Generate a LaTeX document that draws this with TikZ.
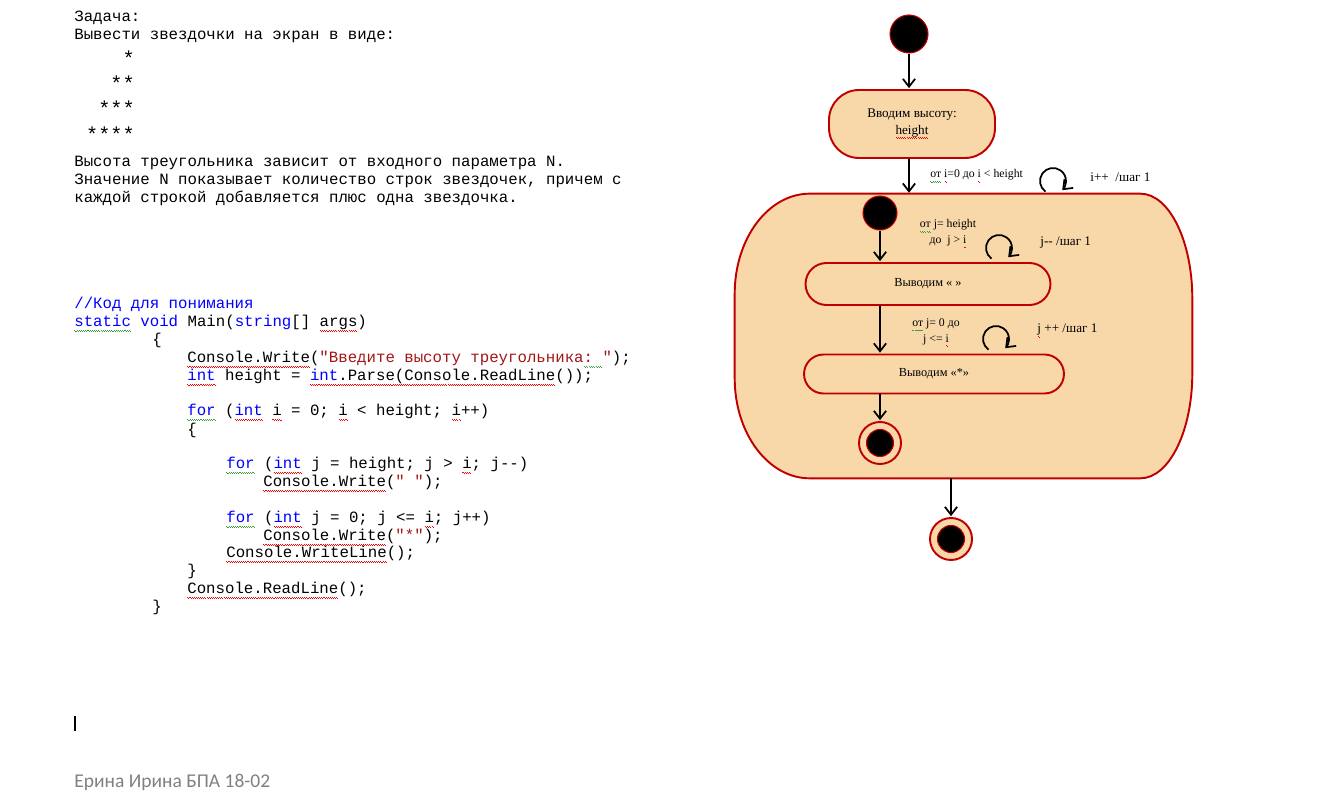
\documentclass[tikz,border=0pt]{standalone}
\usepackage{fontspec}
\setmainfont{Liberation Serif}
\setmonofont{Liberation Mono}
\newfontfamily\footfont{Carlito}
\usepackage{tikz}
\usetikzlibrary{positioning,arrows.meta,calc,shapes.misc}
\usepackage{xcolor}

\definecolor{peach}{RGB}{248,216,168}
\definecolor{umlred}{RGB}{192,0,0}
\definecolor{kwblue}{RGB}{0,0,255}
\definecolor{strred}{RGB}{163,21,21}
\definecolor{sqgreen}{RGB}{60,160,60}
\definecolor{footgray}{RGB}{128,128,128}

% spell-check squiggles
\newsavebox\sqword
\newcommand\wavebox{\hbox{%
  \vrule height -1.7pt depth 2.2pt width 0.6pt\vrule height -2.2pt depth 2.7pt width 0.6pt}}
\newcommand\squig[2]{\sbox\sqword{#2}%
  \rlap{\color{#1}\hbox to \wd\sqword{\xleaders\wavebox\hfil}}\usebox\sqword}
\newcommand\rsq{\squig{red}}
\newcommand\gsq{\squig{sqgreen}}
\newcommand\kw[1]{\textcolor{kwblue}{#1}}
\newcommand\cstr[1]{\textcolor{strred}{#1}}

\tikzset{
  >={Straight Barb[length=4.5pt,width=7pt]},
  code/.style={font=\ttfamily\fontsize{8.95}{10}\selectfont, inner sep=0pt, anchor=base west},
  starrow/.style={font=\ttfamily\fontsize{11.5}{12}\selectfont, inner sep=0pt, anchor=base east},
}

\begin{document}
\begin{tikzpicture}[
  x=0.02cm, y=0.02cm,
  flow/.style={->, line width=1pt, shorten >=0.5pt},
  selfloop/.style={->, line width=1pt},
  startdot/.style={circle, fill=black, draw=umlred, line width=0.6pt, inner sep=0pt},
  action/.style={rectangle, rounded corners=0.6cm, fill=peach, draw=umlred, line width=1.1pt,
    align=center, font=\fontsize{7.5}{9.6}\selectfont},
  capsule/.style={rounded rectangle, fill=peach, draw=umlred, line width=1.1pt, inner sep=0pt,
    font=\fontsize{7}{9}\selectfont},
  region/.style={fill=peach, draw=umlred, line width=1.1pt},
  enddot/.style={circle, fill=peach, draw=umlred, line width=1.1pt, inner sep=0pt,
    minimum size=0.84cm,
    path picture={\filldraw[black, draw=umlred, line width=0.6pt]
      (path picture bounding box.center) circle[radius=0.27cm];}},
  note/.style={font=\fontsize{6.7}{9}\selectfont, inner sep=0pt, align=center},
  steplabel/.style={font=\fontsize{7.5}{9}\selectfont, inner sep=0pt, anchor=west}
]
  \useasboundingbox (0,0) rectangle (1339,-793);

  % task text
  \node[code] (task1) at (74,-22) {Задача:};
  \node[code] (task2) at (74,-40) {Вывести звездочки на экран в виде:};
  \node[starrow] (row1) at (135,-66) {*};
  \node[starrow] (row2) at (135,-91) {**};
  \node[starrow] (row3) at (135,-116) {***};
  \node[starrow] (row4) at (135,-142) {****};
  \node[code] (task3) at (74,-167) {Высота треугольника зависит от входного параметра N.};
  \node[code] (task4) at (74,-185) {Значение N показывает количество строк звездочек, причем с};
  \node[code] (task5) at (74,-203) {каждой строкой добавляется плюс одна звездочка.};

  % code listing
  \node[code] (line1) at (74,-309) {\kw{//Код для понимания}};
  \node[code] (line2) at (74,-327) {\gsq{\kw{static}} \kw{void} Main(\kw{string}[] \rsq{args})};
  \node[code] (line3) at (152,-345) {\{};
  \node[code] (line4) at (187,-363) {\rsq{Console.Write}(\cstr{"Введите высоту треугольника\gsq{:~}"});};
  \node[code] (line5) at (187,-381) {\rsq{\kw{int}} height = \rsq{\kw{int}.Parse(Console.ReadLine}());};
  \node[code] (line6) at (187,-416) {\gsq{\kw{for}} (\rsq{\kw{int}} \rsq{i} = 0; \rsq{i} < height; \rsq{i}++)};
  \node[code] (line7) at (187,-435) {\{};
  \node[code] (line8) at (226,-469) {\gsq{\kw{for}} (\rsq{\kw{int}} j = height; j > \rsq{i}; j--)};
  \node[code] (line9) at (263,-487) {\rsq{Console.Write}(\cstr{"~"});};
  \node[code] (line10) at (226,-523) {\gsq{\kw{for}} (\rsq{\kw{int}} j = 0; j <= \rsq{i}; j++)};
  \node[code] (line11) at (263,-541) {\rsq{Console.Write}(\cstr{"*"});};
  \node[code] (line12) at (226,-558) {\rsq{Console.WriteLine}();};
  \node[code] (line13) at (187,-576) {\}};
  \node[code] (line14) at (187,-594) {\rsq{Console.ReadLine}();};
  \node[code] (line15) at (152,-612) {\}};

  % cursor and footer
  \draw[line width=1.1pt] (75,-716) -- (75,-731);
  \node[inner sep=0pt, anchor=base west, text=footgray, font=\footfont\fontsize{11.1}{13}\selectfont]
    (author) at (74,-787) {Ерина Ирина БПА 18-02};

  % activity diagram
  \node[startdot, minimum size=0.76cm] (start) at (909,-34) {};
  \node[action, minimum width=3.32cm, minimum height=1.36cm] (input) at (912,-124)
    {Вводим высоту:\\\rsq{height}};
  \node[inner sep=0pt, minimum width=9.14cm, minimum height=5.68cm] (loop) at (963.5,-336) {};
  \draw[region] ($(loop.north west)+(75,0)$) -- ($(loop.north east)+(-52,0)$)
    arc[start angle=90, end angle=0, x radius=52, y radius=105]
    -- ($(loop.south east)+(0,105)$)
    arc[start angle=0, end angle=-90, x radius=52, y radius=105]
    -- ($(loop.south west)+(75,0)$)
    arc[start angle=-90, end angle=-180, x radius=75, y radius=100]
    -- ($(loop.north west)+(0,-100)$)
    arc[start angle=180, end angle=90, x radius=75, y radius=100]
    -- cycle;

  \node[startdot, minimum size=0.68cm] (jstart) at (880,-213) {};
  \node[capsule, minimum width=4.9cm, minimum height=0.84cm] (spaces) at (928,-284) {Выводим « »};
  \node[capsule, minimum width=5.2cm, minimum height=0.78cm] (stars) at (934,-374) {Выводим «*»};
  \node[enddot] (jend) at (880,-443) {};
  \node[enddot] (stop) at (951,-539) {};

  \draw[flow] (start) -- (start |- input.north);
  \draw[flow] (input.south -| start) -- (loop.north -| start);
  \draw[flow] (jstart) -- (jstart |- spaces.north);
  \draw[flow] (spaces.south -| jstart) -- (jstart |- stars.north);
  \draw[flow] (stars.south -| jstart) -- (jend);
  \draw[flow] (loop.south -| stop) -- (stop);

  % loop labels
  \node[note, anchor=west] (outer) at (930,-176) {\gsq{от} \rsq{i}=0 до \rsq{i} < height};
  \coordinate (iloop) at (1053,-181);
  \draw[selfloop] ([shift={(235:13)}]iloop) arc[start angle=235, end angle=-45, radius=13];
  \node[steplabel] (outerstep) at (1090,-177) {i++ \ /шаг 1};

  \node[note] (inner1) at (948,-234) {\gsq{от} j= height\\до\ \ j > \rsq{i}};
  \coordinate (jloop1) at (999,-248);
  \draw[selfloop] ([shift={(235:13)}]jloop1) arc[start angle=235, end angle=-45, radius=13];
  \node[steplabel] (inner1step) at (1040,-243) {j-{}- /шаг 1};

  \node[note] (inner2) at (936,-333) {\gsq{от} j= 0 до\\j <= \rsq{i}};
  \coordinate (jloop2) at (996,-339);
  \draw[selfloop] ([shift={(235:13)}]jloop2) arc[start angle=235, end angle=-45, radius=13];
  \node[steplabel] (inner2step) at (1037,-331) {\rsq{j} ++ /шаг 1};
\end{tikzpicture}
\end{document}
